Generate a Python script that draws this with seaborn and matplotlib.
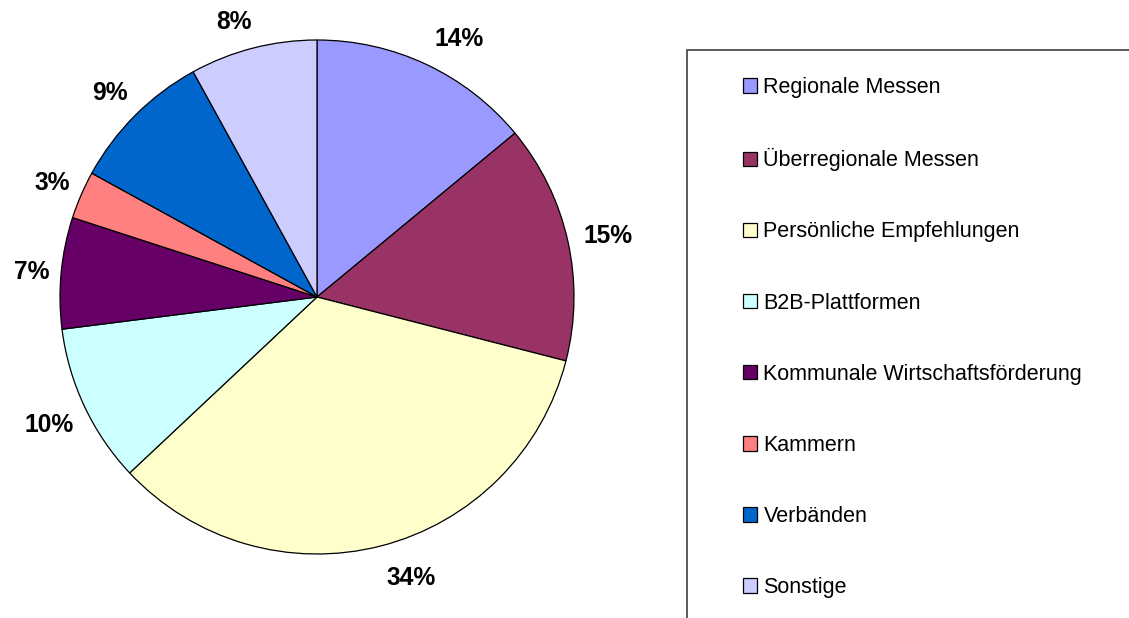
import matplotlib
matplotlib.use("Agg")
import numpy as np
import matplotlib.pyplot as plt
from matplotlib.patches import Rectangle
import seaborn as sns

categories = ["Regionale Messen", "Überregionale Messen", "Persönliche Empfehlungen",
              "B2B-Plattformen", "Kommunale Wirtschaftsförderung", "Kammern",
              "Verbänden", "Sonstige"]
values = [14, 15, 34, 10, 7, 3, 9, 8]
colors = ["#9999FF", "#993366", "#FFFFCC", "#CCFFFF", "#660066", "#FF8080", "#0066CC", "#CCCCFF"]

sns.set_theme(style="white")
plt.rcParams["font.family"] = ["Liberation Sans", "DejaVu Sans"]
plt.rcParams["text.color"] = "black"

W, H = 1129, 618
fig = plt.figure(figsize=(W / 100, H / 100), dpi=100)
fig.patch.set_facecolor("white")

cx, cy, r = 317, 297, 257
ax = fig.add_axes([(cx - r) / W, (H - cy - r) / H, 2 * r / W, 2 * r / H])
palette = sns.color_palette(colors)
wedges, texts = ax.pie(
    values, colors=palette, startangle=90, counterclock=False,
    wedgeprops=dict(edgecolor="black", linewidth=0.9))
ax.set_xlim(-1, 1)
ax.set_ylim(-1, 1)
ax.set_aspect("equal")
ax.axis("off")

# Excel-like "outside end" data labels: the label box corner sits just outside the rim
for wdg, v in zip(wedges, values):
    ang = np.deg2rad((wdg.theta1 + wdg.theta2) / 2)
    c, s = np.cos(ang), np.sin(ang)
    rr = 1.055
    ax.annotate(f"{v}%", xy=(rr * c, rr * s),
                xytext=(1.5, 11 * np.clip(1.5 * s, -1, 1) - 2), textcoords="offset points",
                ha="left" if c > 0 else "right", va="center",
                fontsize=17.7, fontweight="bold", color="black", annotation_clip=False)

# legend frame (extends beyond the figure, as in the reference)
fig.patches.append(Rectangle((687 / W, -0.05), 0.6, (H - 50) / H + 0.05,
                             transform=fig.transFigure, facecolor="none",
                             edgecolor="#404040", linewidth=1.2))

leg = fig.legend(wedges, categories, loc="upper left",
                 bbox_to_anchor=(743 / W, 1 - 77 / H), frameon=False,
                 fontsize=15.5, handlelength=0.65, handleheight=0.65,
                 handletextpad=0.3, labelspacing=2.33, borderpad=0, borderaxespad=0)
for t in leg.get_texts():
    t.set_color("black")

fig.savefig("out.png", dpi=100)
